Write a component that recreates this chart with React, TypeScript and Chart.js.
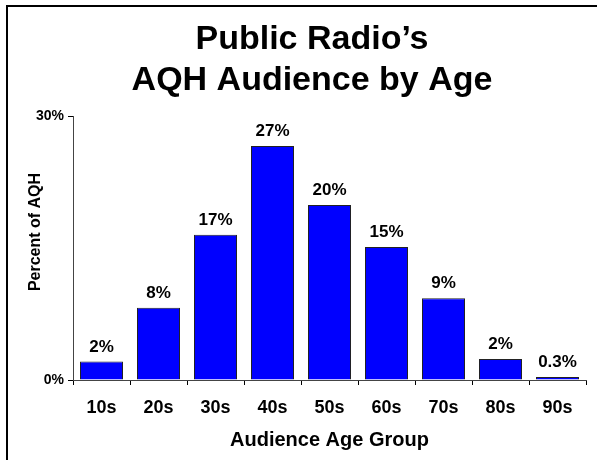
import React, { useEffect, useRef } from 'react';
import { Chart, registerables } from 'chart.js';

Chart.register(...registerables);

const categories = ['10s', '20s', '30s', '40s', '50s', '60s', '70s', '80s', '90s'];
const percentValues = [2.1, 8.2, 16.5, 26.6, 19.9, 15.1, 9.3, 2.4, 0.35];
const valueLabels = ['2%', '8%', '17%', '27%', '20%', '15%', '9%', '2%', '0.3%'];
const yTickValues = [0, 30];
const titleLines = ['Public Radio\u2019s', 'AQH Audience by Age'];
const yAxisTitle = 'Percent of AQH';
const xAxisTitle = 'Audience Age Group';

const FONT = '"Liberation Sans", Arial, Helvetica, sans-serif';
const CW = 589;
const CH = 453;

const textPlugin = {
  id: 'customText',
  afterDraw(chart: any) {
    const ctx = chart.ctx;
    ctx.save();
    ctx.fillStyle = '#000';
    ctx.textAlign = 'center';
    ctx.textBaseline = 'alphabetic';
    ctx.font = `bold 34px ${FONT}`;
    titleLines.forEach((t, i) => ctx.fillText(t, 304, 42 + i * 41));

    ctx.font = `bold 17px ${FONT}`;
    const meta = chart.getDatasetMeta(0);
    meta.data.forEach((bar: any, i: number) => {
      ctx.fillText(valueLabels[i], bar.x, bar.y - 10);
    });

    ctx.translate(27.5, 225);
    ctx.rotate(-Math.PI / 2);
    ctx.font = `bold 16px ${FONT}`;
    ctx.textBaseline = 'middle';
    ctx.fillText(yAxisTitle, 0, 0);
    ctx.restore();
  },
};

export default function App() {
  const ref = useRef<HTMLCanvasElement | null>(null);

  useEffect(() => {
    if (!ref.current) return;
    const chart = new Chart(ref.current, {
      type: 'bar',
      data: {
        labels: categories,
        datasets: [
          {
            data: percentValues,
            backgroundColor: '#0000FF',
            borderColor: '#222',
            borderWidth: 1,
            barPercentage: 0.755,
            categoryPercentage: 1,
          },
        ],
      },
      options: {
        responsive: false,
        animation: false,
        devicePixelRatio: 1,
        layout: { padding: { left: 0, right: 11, top: 109, bottom: 0 } },
        plugins: {
          legend: { display: false },
          tooltip: { enabled: false },
          title: { display: false },
        },
        scales: {
          x: {
            afterFit: (s: any) => {
              s.height = 80;
            },
            grid: {
              display: true,
              offset: true,
              drawOnChartArea: false,
              drawTicks: true,
              tickLength: 5,
              color: '#000',
            },
            border: { display: true, color: '#444', width: 1 },
            ticks: {
              color: '#000',
              font: { family: FONT, size: 18, weight: 'bold' },
              padding: 12,
              maxRotation: 0,
            },
            title: {
              display: true,
              text: xAxisTitle,
              color: '#000',
              font: { family: FONT, size: 20, weight: 'bold' },
              padding: { top: 0, bottom: 8 },
            },
          },
          y: {
            min: 0,
            max: 30,
            afterFit: (s: any) => {
              s.width = 65;
            },
            afterBuildTicks: (s: any) => {
              s.ticks = yTickValues.map((v) => ({ value: v }));
            },
            grid: {
              display: true,
              drawOnChartArea: false,
              drawTicks: true,
              tickLength: 5,
              color: '#000',
            },
            border: { display: true, color: '#444', width: 1 },
            ticks: {
              color: '#000',
              font: { family: FONT, size: 14, weight: 'bold' },
              padding: 4,
              callback: (v: any) => `${v}%`,
            },
          },
        },
      },
      plugins: [textPlugin],
    } as any);
    return () => chart.destroy();
  }, []);

  return (
    <div
      style={{
        position: 'absolute',
        left: 6,
        top: 5,
        width: 591,
        height: 455,
        boxSizing: 'border-box',
        borderLeft: '2px solid #000',
        borderTop: '2px solid #000',
        overflow: 'hidden',
        background: '#fff',
      }}
    >
      <canvas ref={ref} width={CW} height={CH} style={{ display: 'block', width: CW, height: CH }} />
    </div>
  );
}
